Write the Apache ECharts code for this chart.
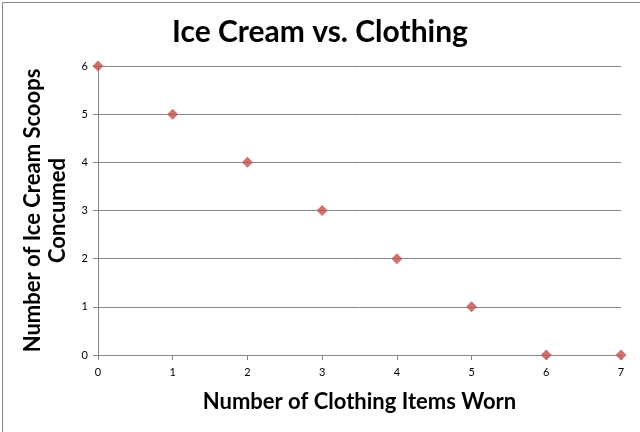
<!DOCTYPE html>
<html>
<head>
<meta charset="utf-8">
<script src="https://cdn.jsdelivr.net/npm/echarts@6/dist/echarts.min.js"></script>
<style>
html,body{margin:0;padding:0;background:#fff;}
#c{width:640px;height:432px;}
</style>
</head>
<body>
<div id="c"></div>
<script>
var clothingItems = [0, 1, 2, 3, 4, 5, 6, 7];
var scoops = [6, 5, 4, 3, 2, 1, 0, 0];
var titleText = 'Ice Cream vs. Clothing';
var xTitle = 'Number of Clothing Items Worn';
var yTitle = 'Number of Ice Cream Scoops\nConcumed';

var points = clothingItems.map(function (x, i) { return [x, scoops[i]]; });
var chart = echarts.init(document.getElementById('c'));
var font = 'Lato, "Open Sans", sans-serif';
chart.setOption({
  animation: false,
  graphic: [{
    type: 'rect', left: 0, top: 0, silent: true,
    shape: { x: 0.5, y: 0.5, width: 639, height: 431 },
    style: { fill: 'none', stroke: '#868686', lineWidth: 1 }
  }],
  title: {
    text: titleText, left: 'center', top: 12,
    textStyle: { fontFamily: font, fontSize: 30, fontWeight: 'bold', color: '#000' }
  },
  grid: { left: 98, right: 19, top: 66, bottom: 77, containLabel: false, outerBoundsMode: 'none' },
  xAxis: {
    type: 'value', min: 0, max: 7, interval: 1,
    name: xTitle, nameLocation: 'middle', nameGap: 36,
    nameTextStyle: { fontFamily: font, fontSize: 22, fontWeight: 'bold', color: '#000' },
    axisLine: { lineStyle: { color: '#868686', width: 1 } },
    axisTick: { show: true, length: 5, inside: false, lineStyle: { color: '#868686' } },
    axisLabel: { fontFamily: font, fontSize: 11, color: '#000', margin: 12 },
    splitLine: { show: false }
  },
  yAxis: {
    type: 'value', min: 0, max: 6, interval: 1,
    name: yTitle, nameLocation: 'middle', nameGap: 20, nameRotate: 90,
    nameTextStyle: { fontFamily: font, fontSize: 22, fontWeight: 'bold', color: '#000', lineHeight: 25 },
    axisLine: { show: true, lineStyle: { color: '#868686', width: 1 } },
    axisTick: { show: true, length: 5, inside: false, lineStyle: { color: '#868686' } },
    axisLabel: { fontFamily: font, fontSize: 11, color: '#000', margin: 10 },
    splitLine: { show: true, lineStyle: { color: '#868686', width: 1 } }
  },
  series: [{
    type: 'scatter', data: points, symbol: 'diamond', symbolSize: 11,
    itemStyle: { color: '#C0504D' }
  }]
});
</script>
</body>
</html>
